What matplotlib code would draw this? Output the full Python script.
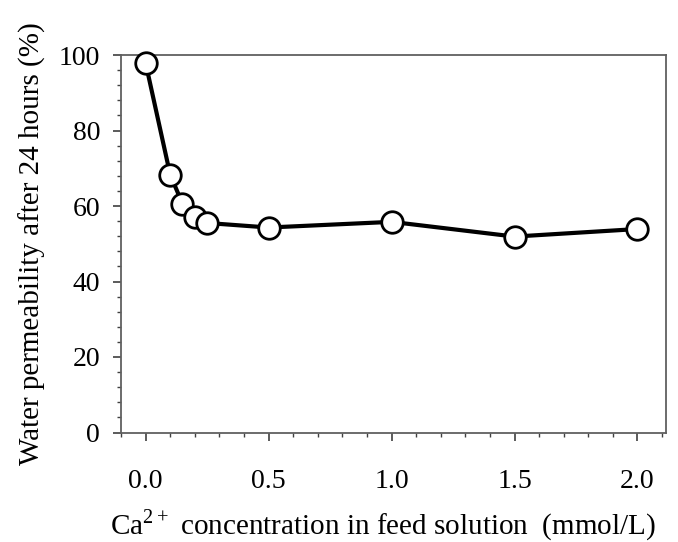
import matplotlib
matplotlib.use("Agg")
import matplotlib.pyplot as plt
from matplotlib.ticker import MultipleLocator, FormatStrFormatter

plt.rcParams['font.family'] = ['Liberation Serif', 'DejaVu Serif']
plt.rcParams['mathtext.fontset'] = 'custom'
plt.rcParams['mathtext.rm'] = 'Liberation Serif'

conc = [0.0, 0.1, 0.15, 0.2, 0.25, 0.5, 1.0, 1.5, 2.0]
permeability = [97.9, 68.3, 60.6, 57.2, 55.5, 54.3, 55.8, 51.9, 53.9]

fig = plt.figure(figsize=(6.78, 5.42), dpi=100)
ax = fig.add_axes([121/678, 1 - 432.5/542, (666-121)/678, (432.5-55)/542])

ax.plot(conc, permeability, color='black', linewidth=3, marker='o',
        markersize=15.5, markerfacecolor='white', markeredgecolor='black',
        markeredgewidth=2, zorder=3, clip_on=False)

ax.set_xlim(-0.1, 2.116)
ax.set_ylim(0, 100)
ax.xaxis.set_major_locator(MultipleLocator(0.5))
ax.xaxis.set_minor_locator(MultipleLocator(0.1))
ax.yaxis.set_major_locator(MultipleLocator(20))
ax.yaxis.set_minor_locator(MultipleLocator(4))
ax.xaxis.set_major_formatter(FormatStrFormatter('%.1f'))

for s in ax.spines.values():
    s.set_color('#606060')
    s.set_linewidth(1.3)

ax.tick_params(axis='both', which='major', direction='out', length=6, width=1.2,
               color='#404040', labelsize=20, labelcolor='black')
ax.tick_params(axis='both', which='minor', direction='out', length=3, width=1.0,
               color='#404040')
ax.tick_params(axis='x', which='major', pad=20)
ax.tick_params(axis='y', which='major', pad=9)

ax.set_ylabel('Water permeability after 24 hours (%)', fontsize=21, labelpad=9)
ax.set_xlabel('Ca$^{2+}$ concentration in feed solution  (mmol/L)', fontsize=21)
ax.xaxis.label.set_verticalalignment('baseline')
ax.xaxis.set_label_coords((383 - 121) / (666 - 121), -(533.5 - 432.5) / (432.5 - 55))

fig.savefig('out.png', dpi=100)
